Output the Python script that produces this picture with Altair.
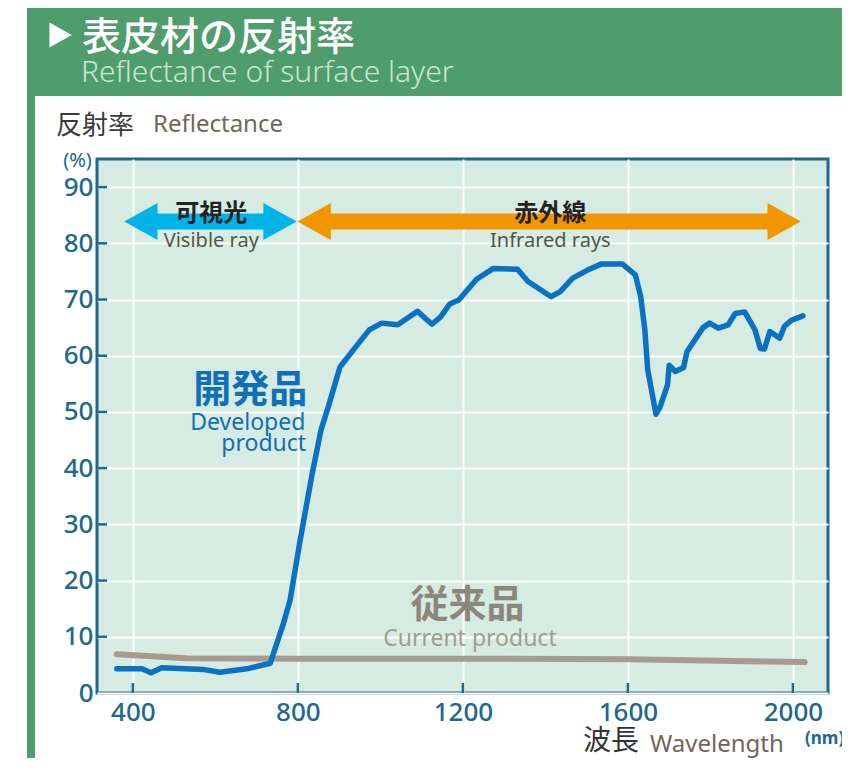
import altair as alt
import pandas as pd

# ---------------- data ----------------
dev_nm = [361, 422, 444, 470, 570, 611, 676, 733, 765, 781, 805, 834, 856, 874, 902, 934,
          973, 1003, 1042, 1090, 1125, 1146, 1168, 1190, 1233, 1273, 1332, 1358, 1414, 1436,
          1466, 1501, 1535, 1587, 1618, 1631, 1641, 1648, 1668, 1678, 1696, 1700, 1715, 1735,
          1743, 1782, 1798, 1819, 1843, 1860, 1883, 1908, 1921, 1931, 1944, 1968, 1979, 1996, 2024]
dev_val = [4.3, 4.3, 3.6, 4.5, 4.2, 3.7, 4.3, 5.3, 12.4, 16.5, 27.0, 38.8, 46.8, 51.0, 58.0, 61.0,
           64.6, 65.8, 65.5, 67.9, 65.6, 66.9, 69.2, 69.9, 73.6, 75.5, 75.4, 73.2, 70.5, 71.4,
           73.8, 75.2, 76.3, 76.3, 74.4, 70.5, 64.6, 57.5, 49.6, 50.9, 54.8, 58.3, 57.2, 57.9,
           60.7, 65.0, 65.8, 64.9, 65.5, 67.5, 67.8, 64.6, 61.3, 61.2, 64.3, 63.1, 65.2, 66.3, 67.1]
cur_nm = [361, 531, 800, 1200, 1600, 2028]
cur_val = [6.9, 6.2, 6.1, 6.1, 6.0, 5.5]

x_ticks = [400, 800, 1200, 1600, 2000]
y_ticks = [0, 10, 20, 30, 40, 50, 60, 70, 80, 90]

arrow_names = ["visible", "infrared"]
arrow_start = [379, 799]
arrow_end = [797, 2019]
arrow_level = [83.9, 83.9]
arrow_colors = ["#00b4ea", "#f29600"]
arrow_jp = ["可視光", "赤外線"]
arrow_en = ["Visible ray", "Infrared rays"]
arrow_label_x = [590, 1412]

# ---------------- style ----------------
TEAL = "#20688c"
BLUE = "#0b72c3"
GRAY_LINE = "#a89a91"
GREEN = "#4f9c6c"
W, H = 731, 534
JP = "Noto Sans CJK JP"
EN = "Noto Sans"

xs = alt.Scale(domain=[313, 2085], nice=False, zero=False)
ys = alt.Scale(domain=[0, 95], nice=False, zero=False)

dev_df = pd.DataFrame({"nm": dev_nm, "val": dev_val})
cur_df = pd.DataFrame({"nm": cur_nm, "val": cur_val})
one = pd.DataFrame({"a": [0]})

x_axis = alt.Axis(values=x_ticks, grid=True, gridColor="white", gridWidth=2, ticks=False,
                  domain=False, labelFont=EN, labelFontSize=26, labelFontWeight=500,
                  labelColor=TEAL, labelPadding=6, title=None, format="d")
y_axis = alt.Axis(values=y_ticks, grid=True, gridColor="white", gridWidth=2, ticks=False,
                  domain=False, labelFont=EN, labelFontSize=26, labelFontWeight=500,
                  labelColor=TEAL, labelPadding=4, title=None, format="d")


def X(field, **kw):
    return alt.X(field, scale=xs, axis=x_axis, **kw)


def Y(field, **kw):
    return alt.Y(field, scale=ys, axis=y_axis, **kw)


cur_line = alt.Chart(cur_df).mark_line(color=GRAY_LINE, strokeWidth=6, strokeCap="round",
                                       strokeJoin="round").encode(x=X("nm:Q"), y=Y("val:Q"))
dev_line = alt.Chart(dev_df).mark_line(color=BLUE, strokeWidth=5.5, strokeCap="round",
                                       strokeJoin="round").encode(x=X("nm:Q"), y=Y("val:Q"))

# inward ticks
xt = alt.Chart(pd.DataFrame({"nm": x_ticks})).mark_rule(color=TEAL, strokeWidth=2.5).encode(
    x=X("nm:Q"), y=alt.value(H), y2=alt.value(H - 10))
yt = alt.Chart(pd.DataFrame({"val": y_ticks[1:]})).mark_rule(color=TEAL, strokeWidth=2.5).encode(
    y=Y("val:Q"), x=alt.value(0), x2=alt.value(10))

# arrows
head_nm = 60
arr_df = pd.DataFrame({
    "name": arrow_names,
    "s": arrow_start,
    "e": arrow_end,
    "s_in": [v + head_nm for v in arrow_start],
    "e_in": [v - head_nm for v in arrow_end],
    "lvl": arrow_level,
    "jp": arrow_jp,
    "en": arrow_en,
    "lx": arrow_label_x,
})
acolor = alt.Color("name:N", scale=alt.Scale(domain=arrow_names, range=arrow_colors), legend=None)
shaft = alt.Chart(arr_df).mark_rule(strokeWidth=16, strokeCap="butt").encode(
    x=X("s_in:Q"), x2="e_in:Q", y=Y("lvl:Q"), color=acolor)
head_l = alt.Chart(arr_df).mark_point(shape="M0,0L1.8,-1L1.8,1Z", filled=True, opacity=1,
                                      strokeWidth=0, size=1369).encode(
    x=X("s:Q"), y=Y("lvl:Q"), color=acolor)
head_r = alt.Chart(arr_df).mark_point(shape="M0,0L-1.8,-1L-1.8,1Z", filled=True, opacity=1,
                                      strokeWidth=0, size=1369).encode(
    x=X("e:Q"), y=Y("lvl:Q"), color=acolor)
arr_jp = alt.Chart(arr_df).transform_calculate(lvl2="datum.lvl + 1.3").mark_text(
    font=JP, fontSize=24, fontWeight="bold", color="#222222", align="center", baseline="middle"
).encode(x=X("lx:Q"), y=Y("lvl2:Q"), text="jp:N")
arr_en = alt.Chart(arr_df).transform_calculate(lvl3="datum.lvl - 4.6").mark_text(
    font=EN, fontSize=20, color="#55564a", align="center", baseline="alphabetic"
).encode(x=X("lx:Q"), y=Y("lvl3:Q"), text="en:N")

# series labels (data coordinates)
lab_df = pd.DataFrame({
    "t": ["開発品", "Developed", "product", "従来品", "Current product"],
    "x": [823, 818, 820, 1211, 1217],
    "y": [53.8, 46.8, 43.0, 15.5, 8.4],
    "k": ["jp_dev", "en_dev", "en_dev", "jp_cur", "en_cur"],
})


def lab(kind, **kw):
    return alt.Chart(lab_df).transform_filter(alt.datum.k == kind).mark_text(**kw).encode(
        x=X("x:Q"), y=Y("y:Q"), text="t:N")


l1 = lab("jp_dev", font=JP, fontSize=38, fontWeight="bold", color="#0f6fb8", align="right", baseline="middle")
l2 = lab("en_dev", font=EN, fontSize=23, color="#0f6fb8", align="right", baseline="alphabetic")
l3 = lab("jp_cur", font=JP, fontSize=38, fontWeight="bold", color="#8b877b", align="center", baseline="middle")
l4 = lab("en_cur", font=EN, fontSize=23, color="#a19d92", align="center", baseline="alphabetic")

# header / frame decoration (pixel positions relative to plot origin)
banner = alt.Chart(one).mark_rect(color=GREEN).encode(
    x=alt.value(-70), x2=alt.value(745), y=alt.value(-151), y2=alt.value(-63))
strip = alt.Chart(one).mark_rect(color=GREEN).encode(
    x=alt.value(-70), x2=alt.value(-62), y=alt.value(-63), y2=alt.value(599))
tri = alt.Chart(one).mark_point(shape="M-0.85,-1L0.95,0L-0.85,1Z", filled=True, opacity=1,
                                strokeWidth=0, color="white", size=620).encode(
    x=alt.value(-37), y=alt.value(-124))


def txt(text, x, y, **kw):
    return alt.Chart(one).mark_text(text=text, **kw).encode(x=alt.value(x), y=alt.value(y))


t_title = txt("表皮材の反射率", -15, -121, font=JP, fontSize=39, fontWeight=500, color="white",
              align="left", baseline="middle")
t_sub = txt("Reflectance of surface layer", -16, -77, font=EN, fontSize=30, fontWeight=300,
            color="#cbe6d1", align="left", baseline="alphabetic")
t_yjp = txt("反射率", -41, -33.5, font=JP, fontSize=26, color="#3a3a3a", align="left", baseline="middle")
t_yen = txt("Reflectance", 56, -27, font=EN, fontSize=24, color="#6e6758", align="left", baseline="alphabetic")
t_pct = txt("(%)", -19.5, 2, font=EN, fontSize=20, color=TEAL, align="center", baseline="middle")
t_xjp = txt("波長", 486, 583, font=JP, fontSize=28, color="#333333", align="left", baseline="middle")
t_xen = txt("Wavelength", 553, 593, font=EN, fontSize=24, color="#6e6758", align="left", baseline="alphabetic")
t_nm = txt("(nm)", 708, 580, font=EN, fontSize=17, fontWeight="bold", color=TEAL, align="left", baseline="middle")

chart = alt.layer(
    cur_line, dev_line, xt, yt, shaft, head_l, head_r, arr_jp, arr_en,
    l1, l2, l3, l4,
    banner, strip, tri, t_title, t_sub, t_yjp, t_yen, t_pct, t_xjp, t_xen, t_nm,
).properties(
    width=W, height=H,
    padding={"left": 89, "top": 151, "right": 14, "bottom": 65},
    autosize=alt.AutoSizeParams(type="none"),
    background="white",
).configure_view(fill="#d6ebe1", stroke=TEAL, strokeWidth=3)

chart.save("out.html", embed_options={"renderer": "svg", "actions": False})
